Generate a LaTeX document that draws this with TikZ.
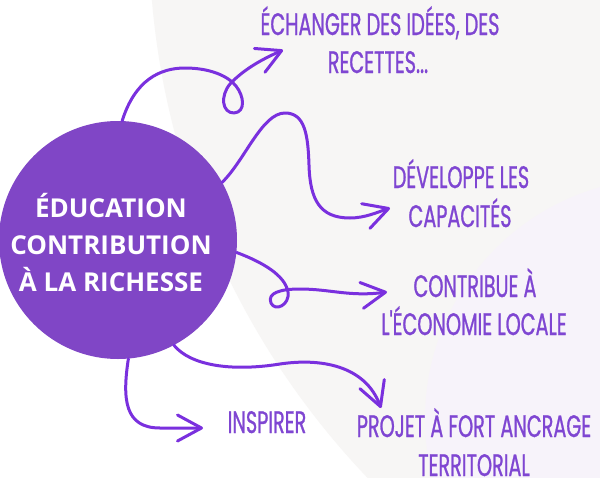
\documentclass[tikz,border=0pt]{standalone}
\usepackage{fontspec}
\usetikzlibrary{arrows.meta}
\newfontfamily\handfont[FakeStretch=0.62,FakeBold=0.8]{Poppins}
\newfontfamily\titlefont{Open Sans}
\definecolor{bubble}{HTML}{8046C6}
\definecolor{arrowpurple}{HTML}{7A30DE}
\definecolor{labelpurple}{HTML}{7F46D2}
\definecolor{bggray}{HTML}{F7F6F5}
\definecolor{bglav}{HTML}{F7F3FA}
\tikzset{
  label text/.style={anchor=base, inner sep=0pt, text=labelpurple,
    font=\handfont\fontsize{31}{38}\selectfont},
  title text/.style={align=center, text=white, inner sep=0pt,
    font=\titlefont\bfseries\fontsize{26}{37}\selectfont},
  swirl/.style={draw=arrowpurple, line width=3pt, line cap=round, line join=round,
    -{Straight Barb[length=24pt,width=26pt,round]}},
}
\begin{document}
\begin{tikzpicture}[x=1pt,y=-1pt]
\useasboundingbox (0,0) rectangle (600,477);
\begin{scope}
\clip (0,0) rectangle (600,477);
\fill[white] (0,0) rectangle (600,477);
\fill[bggray] (940,-68) circle[radius=791];
\fill[bglav] (666,419) circle[radius=241];
\end{scope}

\node[circle, fill=bubble, minimum size=238pt, inner sep=0pt] (c) at (118,240) {};
\node[title text] (t) at (111,243) {ÉDUCATION\\CONTRIBUTION\\À LA RICHESSE};

\node[label text] (l1a) at (380,35) {ÉCHANGER DES IDÉES, DES};
\node[label text] (l1b) at (378,73) {RECETTES...};
\node[label text] (l2a) at (461,188) {DÉVELOPPE LES};
\node[label text] (l2b) at (460,227) {CAPACITÉS};
\node[label text] (l3a) at (475,297) {CONTRIBUE À};
\node[label text] (l3b) at (474,335) {L'ÉCONOMIE LOCALE};
\node[label text] (l4) at (267,433) {INSPIRER};
\node[label text] (l5a) at (474,437) {PROJET À FORT ANCRAGE};
\node[label text] (l5b) at (474,476) {TERRITORIAL};

\coordinate (tip1) at (283,50);
\coordinate (tip2) at (390,208);
\coordinate (tip3) at (387,292);
\coordinate (tip4) at (381,408);
\coordinate (tip5) at (203,428);

\draw[swirl] (c.88) .. controls (135,80) and (160,68) .. (185,68)
  .. controls (210,68) and (228,76) .. (236,86)
  .. controls (244,96) and (246,112) .. (234,113)
  .. controls (222,113) and (220,96) .. (230,84)
  .. controls (245,68) and (265,58) .. (tip1);
\draw[swirl] (c.29) .. controls (245,160) and (262,113) .. (285,113)
  .. controls (305,113) and (308,135) .. (309,165)
  .. controls (310,200) and (320,218) .. (350,218)
  .. controls (365,218) and (378,212) .. (tip2);
\draw[swirl] (c.-6) .. controls (262,262) and (285,275) .. (288,292)
  .. controls (290,305) and (275,312) .. (271,303)
  .. controls (267,293) and (280,289) .. (300,289)
  .. controls (330,289) and (350,297) .. (tip3);
\draw[swirl] (c.-62) .. controls (190,365) and (230,372) .. (280,364)
  .. controls (320,358) and (365,365) .. (tip4);
\draw[swirl] (c.-85) .. controls (122,400) and (125,428) .. (160,428)
  -- (tip5);
\end{tikzpicture}
\end{document}
